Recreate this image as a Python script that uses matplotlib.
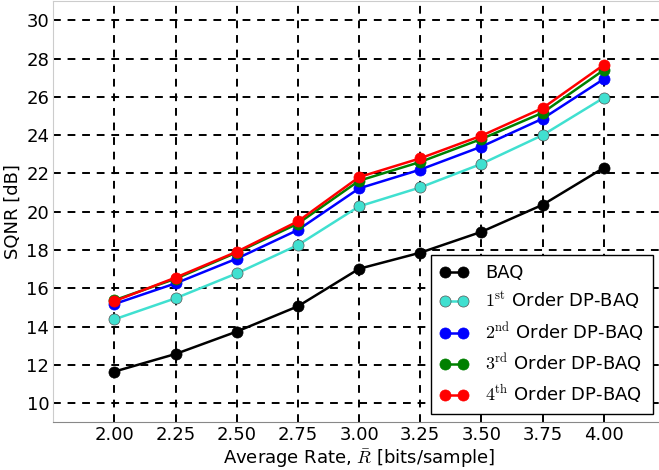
import numpy as np
import matplotlib
matplotlib.use("Agg")
import matplotlib.pyplot as plt

plt.rcParams["mathtext.fontset"] = "cm"
plt.rcParams["font.family"] = "DejaVu Sans"

# --- data ---
rate = [2.00, 2.25, 2.50, 2.75, 3.00, 3.25, 3.50, 3.75, 4.00]
baq = [11.65, 12.57, 13.74, 15.06, 17.02, 17.86, 18.95, 20.36, 22.29]
dp1 = [14.38, 15.48, 16.78, 18.26, 20.28, 21.27, 22.50, 24.00, 25.95]
dp2 = [15.18, 16.26, 17.55, 19.05, 21.22, 22.20, 23.40, 24.86, 26.93]
dp3 = [15.38, 16.50, 17.87, 19.38, 21.62, 22.60, 23.80, 25.17, 27.40]
dp4 = [15.33, 16.56, 17.91, 19.50, 21.81, 22.79, 23.97, 25.41, 27.67]

series = [
    (baq, "k", "BAQ"),
    (dp1, "turquoise", r"$1^{\rm st}$ Order DP-BAQ"),
    (dp2, "b", r"$2^{\rm nd}$ Order DP-BAQ"),
    (dp3, "g", r"$3^{\rm rd}$ Order DP-BAQ"),
    (dp4, "r", r"$4^{\rm th}$ Order DP-BAQ"),
]

fig = plt.figure(figsize=(6.59, 4.70), dpi=100)
# right edge of the axes runs past the figure (cropped like the original)
ax = fig.add_axes([0.0809, 0.1015, 0.928, 0.896])

for vals, col, lab in series:
    edge = "#555555" if col == "turquoise" else col
    ax.plot(rate, vals, "-o", color=col, lw=1.8, ms=8, mec=edge, mew=0.5, label=lab)

ax.set_xlim(1.75, 4.25)
ax.set_ylim(9, 31)
ax.set_xticks(rate)
ax.set_yticks(np.arange(10, 31, 2))
ax.tick_params(length=0, labelsize=13, pad=3)
ax.grid(True, color="k", ls=(0, (4, 3.5)), lw=1.4)
for s in ax.spines.values():
    s.set_color("#cccccc")
ax.spines["bottom"].set_color("#888888")

ax.set_xlabel(r"Average Rate, $\bar{R}$ [bits/sample]", fontsize=13, labelpad=2)
ax.set_ylabel("SQNR [dB]", fontsize=13, labelpad=3)

leg = ax.legend(loc="lower right", bbox_to_anchor=(653 / 659, 56 / 470),
                bbox_transform=fig.transFigure, borderaxespad=0,
                fontsize=13, fancybox=False, framealpha=1, numpoints=2,
                handlelength=1.6, handletextpad=0.9, labelspacing=0.45,
                borderpad=0.5)
leg.get_frame().set_edgecolor("k")
leg.get_frame().set_linewidth(1.0)

fig.savefig("out.png", dpi=100)
